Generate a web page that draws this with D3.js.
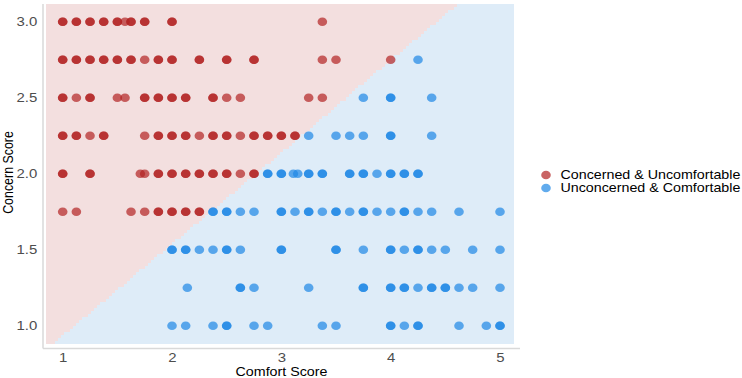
<!DOCTYPE html>
<html><head><meta charset="utf-8">
<script src="https://cdn.jsdelivr.net/npm/d3@7"></script>
<style>body{margin:0;background:#fff}svg{display:block;font-family:"Liberation Sans",Arial,sans-serif}</style>
</head><body>
<svg id="c" width="742" height="378"></svg>
<script>
// Respondents (repeated values = overlapping respondents)
const redComfort = [
  1,1,1.125,1.125,1.25,1.25,1.375,1.375,1.5,1.5,1.57,1.625,1.625,1.75,1.75,2,2,3.375,
  1,1,1.125,1.125,1.25,1.25,1.375,1.375,1.5,1.5,1.625,1.625,1.75,1.875,1.875,2,2,2.25,2.25,2.5,2.5,2.75,2.75,3.375,3.5,4,
  1,1,1.125,1.25,1.25,1.5,1.57,1.75,1.75,1.875,1.875,2,2,2.125,2.125,2.375,2.375,2.5,2.625,3.25,3.375,
  1,1,1.125,1.125,1.25,1.375,1.375,1.75,1.875,1.875,2,2,2.125,2.125,2.25,2.375,2.375,2.5,2.5,2.625,2.75,2.75,2.875,2.875,3,3,3.125,3.125,
  1,1,1.25,1.25,1.71,1.75,1.875,1.875,2,2,2.125,2.125,2.25,2.25,2.375,2.375,2.5,2.5,2.625,2.75,2.75,
  1,1.125,1.625,1.75,1.875,1.875,2,2,2.125,2.125,2.25,2.25
];
const redConcern = [
  3,3,3,3,3,3,3,3,3,3,3,3,3,3,3,3,3,3,
  2.75,2.75,2.75,2.75,2.75,2.75,2.75,2.75,2.75,2.75,2.75,2.75,2.75,2.75,2.75,2.75,2.75,2.75,2.75,2.75,2.75,2.75,2.75,2.75,2.75,2.75,
  2.5,2.5,2.5,2.5,2.5,2.5,2.5,2.5,2.5,2.5,2.5,2.5,2.5,2.5,2.5,2.5,2.5,2.5,2.5,2.5,2.5,
  2.25,2.25,2.25,2.25,2.25,2.25,2.25,2.25,2.25,2.25,2.25,2.25,2.25,2.25,2.25,2.25,2.25,2.25,2.25,2.25,2.25,2.25,2.25,2.25,2.25,2.25,2.25,2.25,
  2,2,2,2,2,2,2,2,2,2,2,2,2,2,2,2,2,2,2,2,2,
  1.75,1.75,1.75,1.75,1.75,1.75,1.75,1.75,1.75,1.75,1.75,1.75
];
const blueComfort = [
  4.25,
  3.75,4,4,4.375,
  3.25,3.5,3.625,3.75,4,4,4.375,
  2.875,2.875,3,3,3.11,3.15,3.25,3.25,3.375,3.375,3.625,3.625,3.75,3.75,3.875,4,4,4.125,4.125,4.25,4.25,
  2.375,2.375,2.5,2.5,2.625,2.75,3,3,3.125,3.25,3.25,3.375,3.5,3.5,3.625,3.75,3.75,3.875,4,4.125,4.125,4.25,4.375,4.625,5,
  2,2,2.125,2.125,2.25,2.375,2.5,2.5,2.625,3,3,3.5,3.5,3.75,4,4,4.125,4.25,4.25,4.375,4.5,4.75,5,
  2.14,2.625,2.625,2.75,3.25,3.75,3.75,4,4,4.125,4.125,4.25,4.375,4.375,4.5,4.5,4.625,4.75,5,
  2,2.125,2.375,2.5,2.5,2.75,2.875,3.375,3.5,4,4,4.125,4.25,4.25,4.625,4.875,5,5
];
const blueConcern = [
  2.75,
  2.5,2.5,2.5,2.5,
  2.25,2.25,2.25,2.25,2.25,2.25,2.25,
  2,2,2,2,2,2,2,2,2,2,2,2,2,2,2,2,2,2,2,2,2,
  1.75,1.75,1.75,1.75,1.75,1.75,1.75,1.75,1.75,1.75,1.75,1.75,1.75,1.75,1.75,1.75,1.75,1.75,1.75,1.75,1.75,1.75,1.75,1.75,1.75,
  1.5,1.5,1.5,1.5,1.5,1.5,1.5,1.5,1.5,1.5,1.5,1.5,1.5,1.5,1.5,1.5,1.5,1.5,1.5,1.5,1.5,1.5,1.5,
  1.25,1.25,1.25,1.25,1.25,1.25,1.25,1.25,1.25,1.25,1.25,1.25,1.25,1.25,1.25,1.25,1.25,1.25,1.25,
  1,1,1,1,1,1,1,1,1,1,1,1,1,1,1,1,1,1
];
const groups = ["Concerned & Uncomfortable", "Unconcerned & Comfortable"];
const pointColors = ["#b22222", "#1e88e5"];
const regionColors = ["#f3dfdf", "#deecf8"];
const xTicks = [1, 2, 3, 4, 5];
const yTicks = [1.0, 1.5, 2.0, 2.5, 3.0];
// decision boundary: concern = slope*comfort + intercept
const boundary = {slope: 0.603, intercept: 0.333};
const gridX = [0.847, 5.129], gridY = [0.88, 3.117];

const SX = 1.15; // horizontal stretch of the original rendering
const FS = 12.4;
const svg = d3.select("#c");
const x = d3.scaleLinear().domain([1, 5]).range([62.7, 500]);
const y = d3.scaleLinear().domain([1, 3]).range([325.7, 21.7]);
const panelL = 43, panelR = 520, panelT = 4, panelB = 348.5;

// background grid
const nx = 156, ny = 113;
const dx = (gridX[1] - gridX[0]) / nx, dy = (gridY[1] - gridY[0]) / ny;
const cells = [];
for (let i = 0; i < nx; i++) for (let j = 0; j < ny; j++) {
  const cx = gridX[0] + (i + 0.5) * dx, cy = gridY[0] + (j + 0.5) * dy;
  cells.push({x0: gridX[0] + i * dx, y0: gridY[0] + j * dy, g: cy > boundary.slope * cx + boundary.intercept ? 0 : 1});
}
svg.append("g").attr("shape-rendering", "crispEdges").selectAll("rect").data(cells).join("rect")
  .attr("x", d => x(d.x0)).attr("y", d => y(d.y0 + dy))
  .attr("width", x(dx) - x(0) + 0.3).attr("height", y(0) - y(dy) + 0.3)
  .attr("fill", d => regionColors[d.g]);

// axes
const xAxis = d3.axisBottom(x).tickValues(xTicks).tickFormat(d3.format("d")).tickSize(0).tickPadding(4);
const yAxis = d3.axisLeft(y).tickValues(yTicks).tickFormat(d3.format(".1f")).tickSize(0).tickPadding(5);
const gx = svg.append("g").attr("transform", `translate(0,${panelB})`).call(xAxis);
const gy = svg.append("g").attr("transform", `translate(${panelL},0)`).call(yAxis);
gx.select(".domain").remove(); gy.select(".domain").remove();
svg.append("line").attr("x1", panelL).attr("x2", panelR).attr("y1", panelB).attr("y2", panelB).attr("stroke", "#d9d9d9").attr("stroke-width", 1.5);
svg.append("line").attr("x1", panelL).attr("x2", panelL).attr("y1", panelT).attr("y2", panelB).attr("stroke", "#d9d9d9").attr("stroke-width", 1.5);
svg.selectAll(".tick text").attr("fill", "#4d4d4d").attr("transform", `scale(${SX},1)`)
  .style("font-size", (FS + 0.6) + "px").style("font-family", "'Liberation Sans',Arial,sans-serif");

svg.append("text").attr("transform", `translate(${(panelL + panelR) / 2},376) scale(${SX},1)`).attr("text-anchor", "middle")
  .style("font-size", FS + "px").attr("fill", "#000").text("Comfort Score");
svg.append("text").attr("transform", `translate(13.3,172.5) rotate(-90) scale(1,${SX})`).attr("text-anchor", "middle")
  .style("font-size", FS + "px").attr("fill", "#000").text("Concern Score");

// points
const pts = [];
redComfort.forEach((c, i) => pts.push({c, k: redConcern[i], g: 0}));
blueComfort.forEach((c, i) => pts.push({c, k: blueConcern[i], g: 1}));
svg.append("g").selectAll("ellipse").data(pts).join("ellipse")
  .attr("cx", d => x(d.c)).attr("cy", d => y(d.k)).attr("rx", 4.8).attr("ry", 4.3)
  .attr("fill", d => pointColors[d.g]).attr("fill-opacity", 0.7);

// legend
const lg = svg.append("g").selectAll("g").data(groups).join("g")
  .attr("transform", (d, i) => `translate(546,${175 + i * 13})`);
lg.append("ellipse").attr("rx", 4.8).attr("ry", 4.3).attr("fill", (d, i) => pointColors[i]).attr("fill-opacity", 0.7);
lg.append("text").attr("transform", `translate(14.5,0) scale(${SX},1)`).attr("dy", "0.35em")
  .style("font-size", FS + "px").attr("fill", "#000").text(d => d);
</script>
</body></html>
